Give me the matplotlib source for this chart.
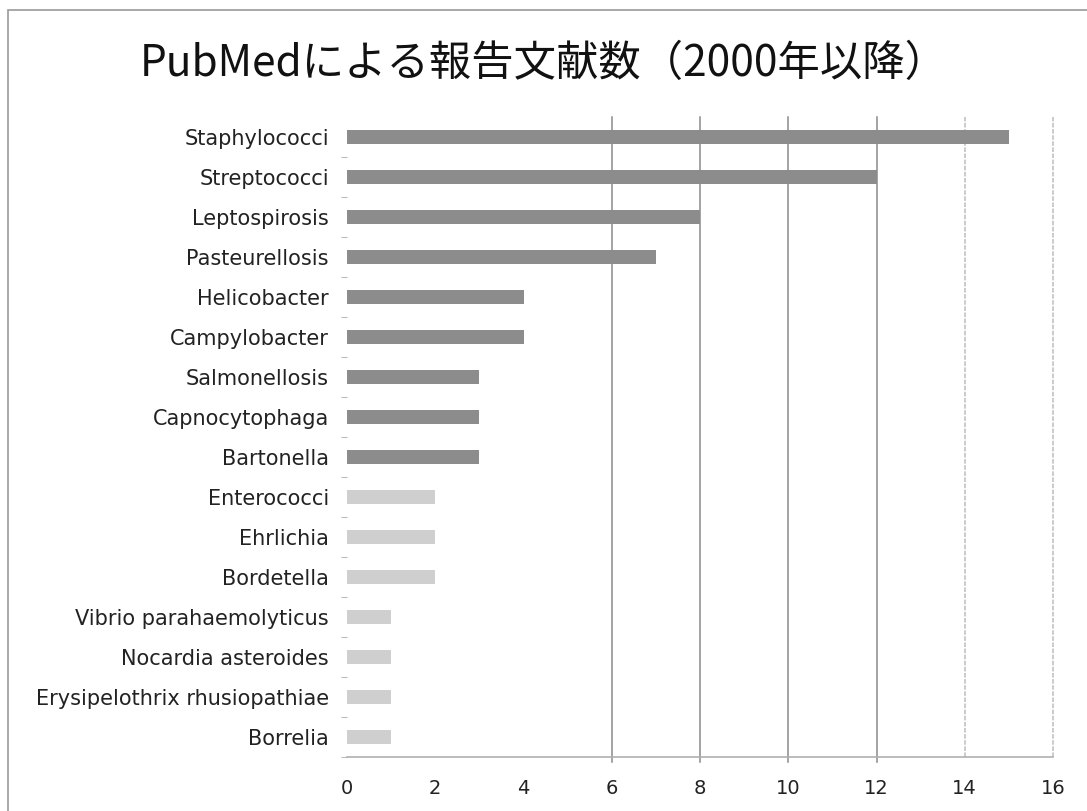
import matplotlib

matplotlib.use("Agg")
import matplotlib.pyplot as plt
from matplotlib.patches import Rectangle

# categories top to bottom, counts
categories = [
    "Staphylococci",
    "Streptococci",
    "Leptospirosis",
    "Pasteurellosis",
    "Helicobacter",
    "Campylobacter",
    "Salmonellosis",
    "Capnocytophaga",
    "Bartonella",
    "Enterococci",
    "Ehrlichia",
    "Bordetella",
    "Vibrio parahaemolyticus",
    "Nocardia asteroides",
    "Erysipelothrix rhusiopathiae",
    "Borrelia",
]
counts = [15, 12, 8, 7, 4, 4, 3, 3, 3, 2, 2, 2, 1, 1, 1, 1]
n_dark = 9  # first nine bars are drawn darker
x_ticks = [0, 2, 4, 6, 8, 10, 12, 14, 16]
title = "PubMedによる報告文献数（2000年以降）"

W, H = 1087, 811
fig = plt.figure(figsize=(W / 100, H / 100), dpi=100)
fig.patch.set_facecolor("white")

left, right, top, bottom = 347, 1053, 117, 757
ax = fig.add_axes([left / W, 1 - bottom / H, (right - left) / W, (bottom - top) / H])

ypos = list(range(len(categories)))
colors = ["#8c8c8c" if i < n_dark else "#cfcfcf" for i in ypos]
ax.barh(ypos, counts, height=0.36, color=colors, edgecolor="none", zorder=3)

ax.set_xlim(0, 16)
ax.set_ylim(len(categories) - 0.5, -0.5)

# vertical gridlines: darker for 6-12, faint for 14-16
for xv in [6, 8, 10, 12]:
    ax.axvline(xv, ymin=-0.008, color="#8a8a8a", linewidth=1.1, zorder=2, clip_on=False)
for xv in [14, 16]:
    ax.axvline(xv, color="#bdbdbd", linewidth=1.1, linestyle=(0, (3, 1)), zorder=2, clip_on=False)

for side in ["top", "right", "left"]:
    ax.spines[side].set_visible(False)
ax.spines["bottom"].set_color("#b0b0b0")
ax.spines["bottom"].set_linewidth(1.2)

ax.set_xticks(x_ticks)
ax.set_xticklabels([str(v) for v in x_ticks], fontsize=14, family="DejaVu Sans", color="#222222")
ax.tick_params(axis="x", length=0, pad=16)

ax.set_yticks(ypos)
ax.set_yticklabels(categories, fontsize=15, family="DejaVu Sans", color="#222222")
ax.tick_params(axis="y", length=0, pad=13)
ax.set_yticks([i + 0.5 for i in ypos], minor=True)
ax.tick_params(axis="y", which="minor", length=4, width=0.8, color="#bbbbbb")

fig.text(544 / W, 1 - 64 / H, title, ha="center", va="center", fontsize=30.5,
         family=["Noto Sans CJK JP", "DejaVu Sans"], color="#111111")

# outer frame of the original slide
fig.patches.append(Rectangle((8 / W, -0.01), 1.1, 1 - 10 / H + 0.01, transform=fig.transFigure,
                             fill=False, edgecolor="#9a9a9a", linewidth=1.2))

fig.savefig("out.png", dpi=100)
